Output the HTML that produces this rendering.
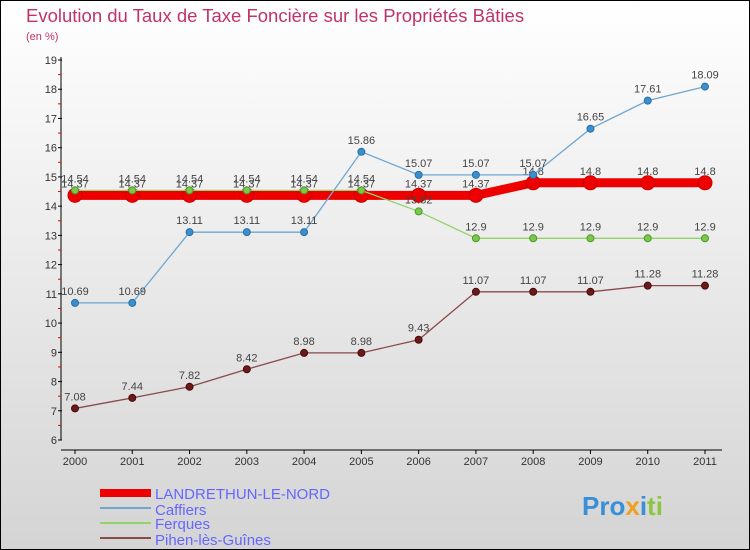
<!DOCTYPE html>
<html><head><meta charset="utf-8"><style>
body{margin:0;width:750px;height:550px;overflow:hidden;font-family:"Liberation Sans",sans-serif}
#wrap{position:absolute;left:0;top:0;width:748px;height:548px;border:1px solid #000;background:linear-gradient(#ffffff,#d4d4d4)}
</style></head><body>
<div id="wrap"></div>
<svg id="chart" width="750" height="550" style="position:absolute;left:0;top:0">
<text x="26" y="22" font-size="18.5" fill="#c0336a">Evolution du Taux de Taxe Foncière sur les Propriétés Bâties</text>
<text x="26" y="40" font-size="11" fill="#c0336a">(en %)</text>
<g id="axes"></g><g id="series"></g>
<g>
<rect x="100" y="489" width="51" height="8" fill="#e00"/>
<text x="155" y="499" font-size="15" fill="#6666ff">LANDRETHUN-LE-NORD</text>
<line x1="100" y1="508" x2="151" y2="508" stroke="#6fa6d0" stroke-width="2"/>
<text x="155" y="515" font-size="15" fill="#6666ff">Caffiers</text>
<line x1="100" y1="523" x2="151" y2="523" stroke="#92d36a" stroke-width="2"/>
<text x="155" y="529" font-size="15" fill="#6666ff">Ferques</text>
<line x1="100" y1="538" x2="151" y2="538" stroke="#8a4a4a" stroke-width="2"/>
<text x="155" y="545" font-size="15" fill="#6666ff">Pihen-lès-Guînes</text>
</g>
<text x="582" y="515" font-size="26" font-weight="bold"><tspan fill="#3a8fd8">Pro</tspan><tspan fill="#f0a020">x</tspan><tspan fill="#3a8fd8">i</tspan><tspan fill="#8cc63f">ti</tspan></text>
</svg>
<script>
const years=["2000","2001","2002","2003","2004","2005","2006","2007","2008","2009","2010","2011"];
const yTicks=[6,7,8,9,10,11,12,13,14,15,16,17,18,19];
const landrethun=[14.37,14.37,14.37,14.37,14.37,14.37,14.37,14.37,14.8,14.8,14.8,14.8];
const caffiers=[10.69,10.69,13.11,13.11,13.11,15.86,15.07,15.07,15.07,16.65,17.61,18.09];
const ferques=[14.54,14.54,14.54,14.54,14.54,14.54,13.82,12.9,12.9,12.9,12.9,12.9];
const pihen=[7.08,7.44,7.82,8.42,8.98,8.98,9.43,11.07,11.07,11.07,11.28,11.28];
const NS="http://www.w3.org/2000/svg";
const X=i=>75+i*(630/11);
const Y=v=>440-(v-6)*(380/13);
function mk(t,a,p){const e=document.createElementNS(NS,t);for(const k in a)e.setAttribute(k,a[k]);p.appendChild(e);return e;}
const ax=document.getElementById('axes');
mk('line',{x1:61,y1:57,x2:61,y2:440,stroke:'#000','stroke-width':1},ax);
mk('line',{x1:61,y1:450,x2:722,y2:450,stroke:'#000','stroke-width':1},ax);
yTicks.forEach(v=>{
  mk('line',{x1:58,y1:Y(v),x2:62,y2:Y(v),stroke:'#000'},ax);
  if(v<19) mk('line',{x1:58,y1:Y(v+0.5),x2:61,y2:Y(v+0.5),stroke:'#e00'},ax);
  const t=mk('text',{x:57,y:Y(v)+4,'font-size':11,fill:'#333','text-anchor':'end'},ax);
  
  
  t.textContent=v;
});
years.forEach((y,i)=>{
  mk('line',{x1:X(i),y1:450,x2:X(i),y2:454,stroke:'#000'},ax);
  const t=mk('text',{x:X(i),y:465,'font-size':11,fill:'#333','text-anchor':'middle'},ax);
  
  
  t.textContent=y;
});
const sg=document.getElementById('series');
function series(name,vals,color,w,r,dot,stroke){
  const g=mk('g',{},sg);
  
  
  const pl=mk('polyline',{points:vals.map((v,i)=>X(i)+','+Y(v)).join(' '),fill:'none',stroke:color,'stroke-width':w},g);
  
  vals.forEach((v,i)=>{
    const c=mk('circle',{cx:X(i),cy:Y(v),r:r,fill:dot,stroke:stroke,'stroke-width':1},g);
    
    
    const t=mk('text',{x:X(i),y:Y(v)-8,'font-size':11,fill:'#444','text-anchor':'middle'},g);
    
    
    t.textContent=v;
  });
}
series('landrethun',landrethun,'#e00',9,7,'#e00','#c00');
series('caffiers',caffiers,'#6fa6d0',1.3,3.5,'#3a8fd0','#2a6fa0');
series('ferques',ferques,'#92d36a',1.3,3.5,'#7cc84a','#4a9a2a');
series('pihen',pihen,'#8a4a4a',1.3,3.5,'#6a1a1a','#4a0a0a');
</script>
</body></html>
